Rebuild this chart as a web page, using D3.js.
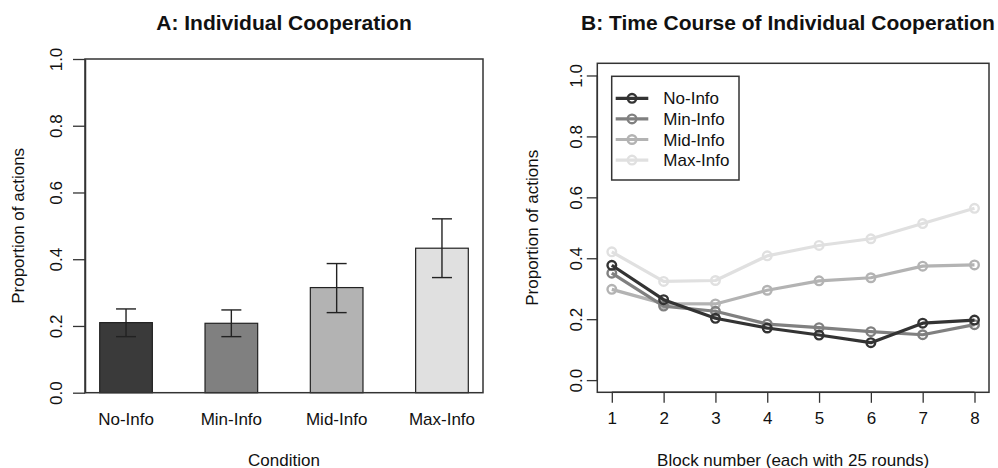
<!DOCTYPE html>
<html><head><meta charset="utf-8">
<script src="https://cdn.jsdelivr.net/npm/d3@7"></script>
<style>
body{margin:0;background:#fff;}
text{font-family:"Liberation Sans",Arial,sans-serif;fill:#111;}
</style></head>
<body><svg id="c" width="998" height="468"></svg>
<script>
// ---- Data ----
const conditions = ["No-Info","Min-Info","Mid-Info","Max-Info"];
const barMeans  = [0.210, 0.208, 0.315, 0.433];
const barLower  = [0.168, 0.168, 0.240, 0.345];
const barUpper  = [0.251, 0.248, 0.387, 0.521];
const blocks = [1,2,3,4,5,6,7,8];
const noInfo  = [0.377,0.264,0.203,0.171,0.148,0.123,0.187,0.197];
const minInfo = [0.351,0.243,0.226,0.184,0.172,0.159,0.149,0.182];
const midInfo = [0.298,0.251,0.250,0.295,0.326,0.336,0.374,0.378];
const maxInfo = [0.421,0.324,0.327,0.408,0.442,0.464,0.514,0.564];
const yTicks = [0,0.2,0.4,0.6,0.8,1.0];
const barColors  = ["#3a3a3a","#808080","#b3b3b3","#e0e0e0"];
const lineColors = ["#333333","#808080","#b3b3b3","#e0e0e0"];

const svg = d3.select("#c");
const axisCol = "#333";
const fs = 17;

// ---------- Panel A ----------
const A = {l:85, r:483, t:59, b:392.7};
const xA = d3.scaleBand().domain(conditions).range([A.l+14.7, A.r-14.7]).paddingInner(0.5).paddingOuter(0);
const yA = d3.scaleLinear().domain([0,1]).range([A.b, A.t]);
const gA = svg.append("g");

gA.selectAll("rect.bar").data(conditions).join("rect")
  .attr("x", d=>xA(d)).attr("width", xA.bandwidth())
  .attr("y", (d,i)=>yA(barMeans[i])).attr("height",(d,i)=>yA(0)-yA(barMeans[i]))
  .attr("fill",(d,i)=>barColors[i]).attr("stroke","#222").attr("stroke-width",1.2);

const eb = gA.selectAll("g.eb").data(conditions).join("g");
eb.append("line").attr("x1",d=>xA(d)+xA.bandwidth()/2).attr("x2",d=>xA(d)+xA.bandwidth()/2)
  .attr("y1",(d,i)=>yA(barLower[i])).attr("y2",(d,i)=>yA(barUpper[i]));
eb.append("line").attr("x1",d=>xA(d)+xA.bandwidth()/2-10).attr("x2",d=>xA(d)+xA.bandwidth()/2+10)
  .attr("y1",(d,i)=>yA(barLower[i])).attr("y2",(d,i)=>yA(barLower[i]));
eb.append("line").attr("x1",d=>xA(d)+xA.bandwidth()/2-10).attr("x2",d=>xA(d)+xA.bandwidth()/2+10)
  .attr("y1",(d,i)=>yA(barUpper[i])).attr("y2",(d,i)=>yA(barUpper[i]));
eb.selectAll("line").attr("stroke","#222").attr("stroke-width",1.4);

gA.append("rect").attr("x",A.l).attr("y",A.t).attr("width",A.r-A.l).attr("height",A.b-A.t)
  .attr("fill","none").attr("stroke",axisCol).attr("stroke-width",1.5);

function styleYAxis(g, offset){
  g.select(".domain").attr("stroke",axisCol).attr("stroke-width",1.5);
  g.selectAll(".tick line").attr("stroke",axisCol).attr("stroke-width",1.3);
  g.selectAll(".tick text").attr("x",0).attr("dy",0).attr("text-anchor","middle")
    .attr("transform",`translate(${-offset},0) rotate(-90)`)
    .style("font-size",fs+"px").style("font-family","Liberation Sans, Arial, sans-serif").attr("fill","#111");
}
const axA = gA.append("g").attr("transform",`translate(${A.l},0)`)
  .call(d3.axisLeft(yA).tickValues(yTicks).tickFormat(d3.format(".1f")).tickSize(12).tickSizeOuter(0));
styleYAxis(axA, 23);

const axAx = gA.append("g").attr("transform",`translate(0,${A.b})`)
  .call(d3.axisBottom(xA).tickSize(0).tickPadding(0));
axAx.select(".domain").remove();
axAx.selectAll(".tick text").attr("y",0).attr("dy",0).attr("transform","translate(0,32)")
  .style("font-size",fs+"px").style("font-family","Liberation Sans, Arial, sans-serif").attr("fill","#111");

gA.append("text").attr("x",(A.l+A.r)/2).attr("y",465.5).attr("text-anchor","middle")
  .style("font-size",fs+"px").text("Condition");
gA.append("text").attr("transform",`translate(24,${(A.t+A.b)/2}) rotate(-90)`).attr("text-anchor","middle")
  .style("font-size",fs+"px").text("Proportion of actions");
gA.append("text").attr("x",(A.l+A.r)/2).attr("y",30).attr("text-anchor","middle")
  .style("font-size","21px").style("font-weight","bold").text("A: Individual Cooperation");

// ---------- Panel B ----------
const B = {l:597.3, r:989, t:63.3, b:392.3};
const xB = d3.scaleLinear().domain([0.72,8.28]).range([B.l, B.r]);
const yB = d3.scaleLinear().domain([-0.04,1.04]).range([B.b, B.t]);
const gB = svg.append("g");
gB.append("rect").attr("x",B.l).attr("y",B.t).attr("width",B.r-B.l).attr("height",B.b-B.t)
  .attr("fill","none").attr("stroke",axisCol).attr("stroke-width",1.5);

const axB = gB.append("g").attr("transform",`translate(${B.l},0)`)
  .call(d3.axisLeft(yB).tickValues(yTicks).tickFormat(d3.format(".1f")).tickSize(10.5).tickSizeOuter(0));
axB.select(".domain").attr("d",`M-0,${yB(0)}V${yB(1)}`);
styleYAxis(axB, 15.5);

const axBx = gB.append("g").attr("transform",`translate(0,${B.b})`)
  .call(d3.axisBottom(xB).tickValues(blocks).tickFormat(d3.format("d")).tickSize(10.5).tickSizeOuter(0));
axBx.select(".domain").attr("d",`M${xB(1)},0H${xB(8)}`).attr("stroke",axisCol).attr("stroke-width",1.5);
axBx.selectAll(".tick line").attr("stroke",axisCol).attr("stroke-width",1.3);
axBx.selectAll(".tick text").attr("y",0).attr("dy",0).attr("transform","translate(0,32)")
  .style("font-size",fs+"px").style("font-family","Liberation Sans, Arial, sans-serif").attr("fill","#111");

const series = [noInfo, minInfo, midInfo, maxInfo];
const line = d3.line().x((d,i)=>xB(blocks[i])).y(d=>yB(d));
// draw from lightest to darkest so dark on top
[3,2,1,0].forEach(k=>{
  const s = gB.append("g");
  s.append("path").datum(series[k]).attr("d",line).attr("fill","none")
    .attr("stroke",lineColors[k]).attr("stroke-width",3.2).attr("stroke-linejoin","round");
  s.selectAll("circle").data(series[k]).join("circle")
    .attr("cx",(d,i)=>xB(blocks[i])).attr("cy",d=>yB(d)).attr("r",4.3)
    .attr("fill","none").attr("stroke",lineColors[k]).attr("stroke-width",2.4);
});

// legend
const lg = gB.append("g");
lg.append("rect").attr("x",611.7).attr("y",76.3).attr("width",127.3).attr("height",103.7)
  .attr("fill","#fff").attr("stroke",axisCol).attr("stroke-width",1.5);
conditions.forEach((c,i)=>{
  const yy = 98.3 + i*20.6;
  lg.append("line").attr("x1",615.7).attr("x2",648.3).attr("y1",yy).attr("y2",yy)
    .attr("stroke",lineColors[i]).attr("stroke-width",3.2);
  lg.append("circle").attr("cx",632).attr("cy",yy).attr("r",4.3).attr("fill","none")
    .attr("stroke",lineColors[i]).attr("stroke-width",2.4);
  lg.append("text").attr("x",663.3).attr("y",yy+6).style("font-size",fs+"px").text(c);
});

gB.append("text").attr("x",(B.l+B.r)/2).attr("y",465.5).attr("text-anchor","middle")
  .style("font-size",fs+"px").text("Block number (each with 25 rounds)");
gB.append("text").attr("transform",`translate(538,${(yB(0)+yB(1))/2}) rotate(-90)`).attr("text-anchor","middle")
  .style("font-size",fs+"px").text("Proportion of actions");
gB.append("text").attr("x",788).attr("y",30).attr("text-anchor","middle")
  .style("font-size","21px").style("font-weight","bold").text("B: Time Course of Individual Cooperation");
</script></body></html>
